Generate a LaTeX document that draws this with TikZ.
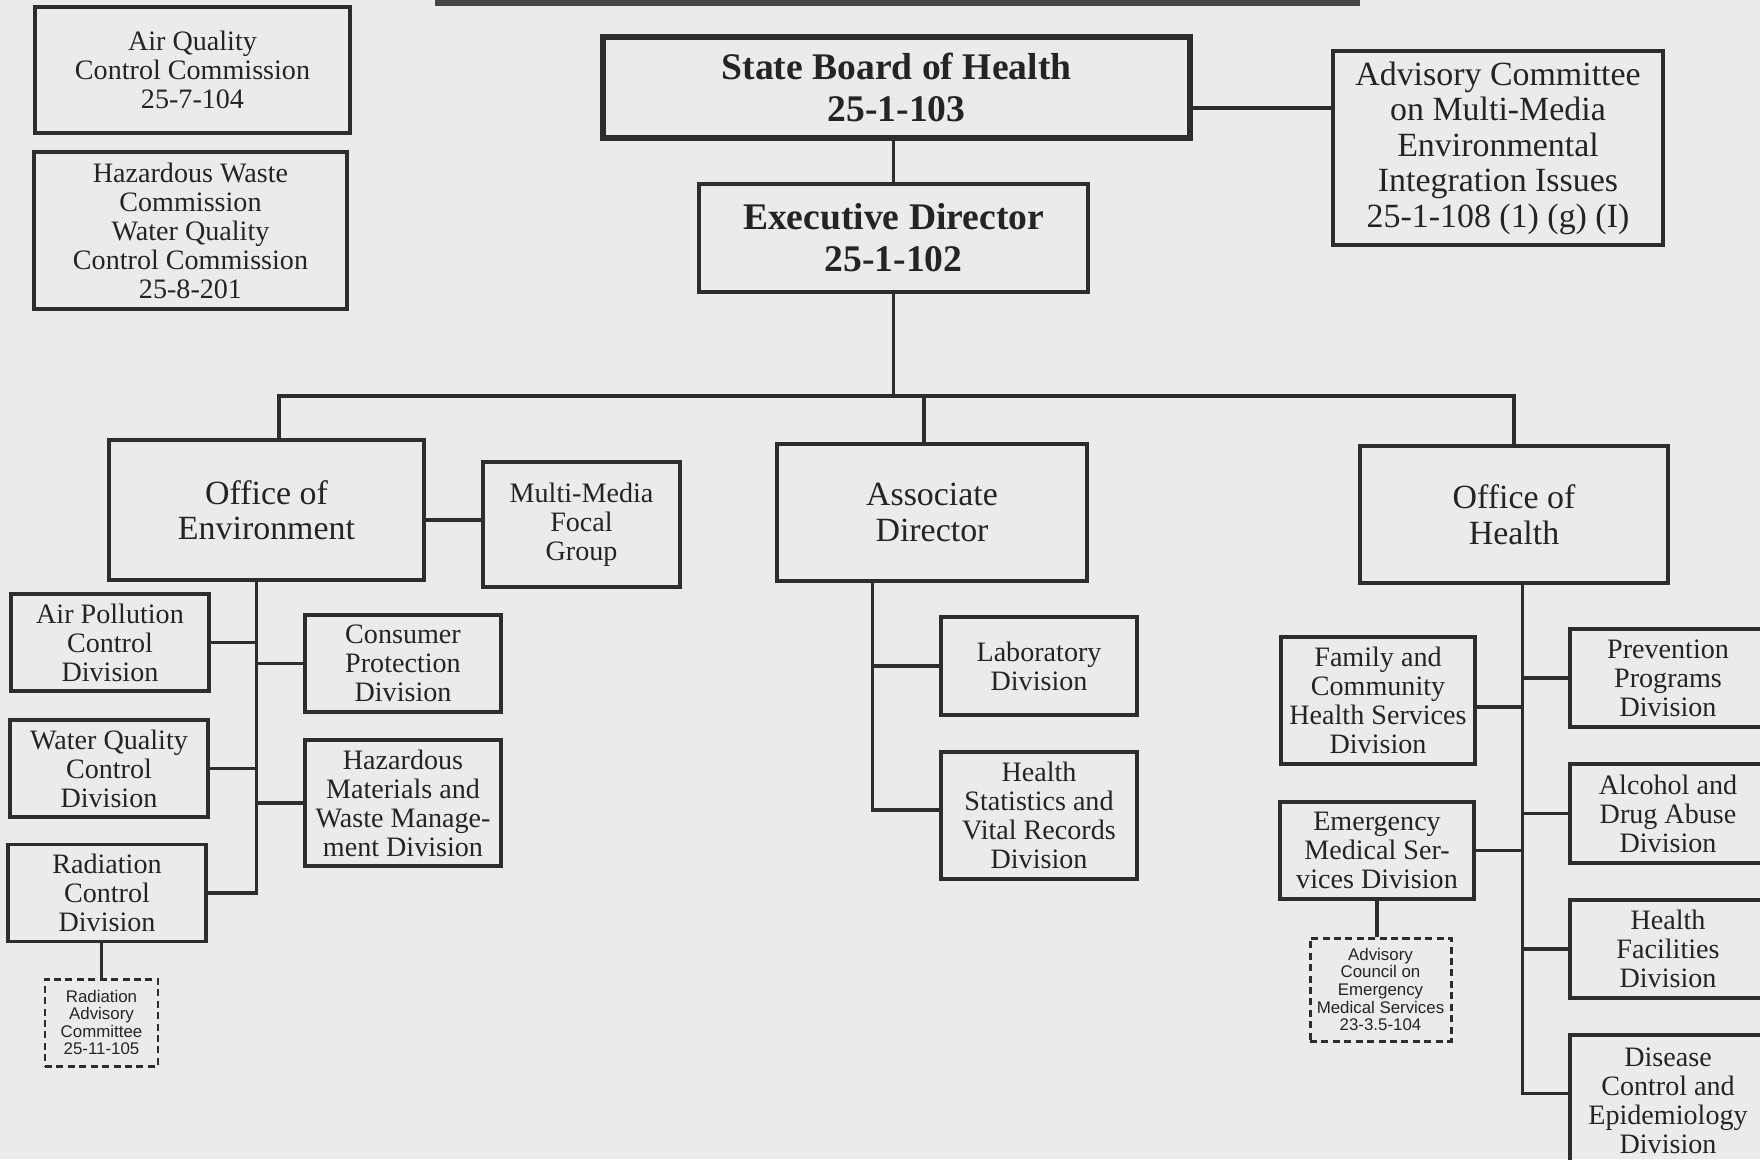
\documentclass[tikz,border=0pt]{standalone}
\usepackage{fontspec}
\setmainfont{Liberation Serif}
\newfontfamily\sansf{Liberation Sans}
\usetikzlibrary{calc}

\definecolor{paper}{RGB}{235,235,235}
\definecolor{ink}{RGB}{45,45,45}
\definecolor{band}{RGB}{70,70,70}

\tikzset{
  unit/.style={draw=ink, line width=1.9pt, inner sep=0pt, align=center, text=ink!80!black},
  boxsize/.style 2 args={minimum width=#1*0.02cm, minimum height=#2*0.02cm},
  div/.style={unit, font=\fontsize{16}{16.5}\selectfont},
  office/.style={unit, font=\fontsize{19.3}{20.2}\selectfont},
  head/.style={unit, font=\bfseries\fontsize{21.4}{24}\selectfont},
  council/.style={unit, dash pattern=on 4pt off 2.5pt, line width=1.7pt, font=\sansf\fontsize{9.6}{10}\selectfont},
  link/.style={draw=ink, line width=2pt},
}

\begin{document}
\begin{tikzpicture}[x=0.02cm, y=-0.02cm]
\fill[paper] (0,0) rectangle (1760,1159);
\useasboundingbox (0,0) rectangle (1760,1159);
\fill[band] (435,-5) rectangle (1360,6);

% board and commissions
\node[div, boxsize={315}{126}] (aqcc) at (192.5,70) {Air Quality\\Control Commission\\25-7-104};
\node[div, boxsize={313}{157}] (hwqc) at (190.5,230.5) {Hazardous Waste\\Commission\\Water Quality\\Control Commission\\25-8-201};
\node[head, line width=3pt, boxsize={587}{101}] (board) at (896.5,87.5) {State Board of Health\\25-1-103};
\node[head, boxsize={389}{108}] (exdir) at (893.5,238) {Executive Director\\25-1-102};
\node[office, boxsize={330}{194}] (mmadv) at (1498,148) {Advisory Committee\\on Multi-Media\\Environmental\\Integration Issues\\25-1-108 (1) (g) (I)};

% offices
\node[office, boxsize={315}{140}] (env) at (266.5,510) {Office of\\Environment};
\node[div, boxsize={197}{125}] (focal) at (581.5,524.5) {Multi-Media\\Focal\\Group};
\node[office, boxsize={310}{137}] (assoc) at (932,512.5) {Associate\\Director};
\node[office, boxsize={308}{137}] (health) at (1514,514.5) {Office of\\Health};

% environment divisions
\node[div, boxsize={198}{97}] (airpol) at (110,642.5) {Air Pollution\\Control\\Division};
\node[div, boxsize={198}{97}] (water) at (109,768.5) {Water Quality\\Control\\Division};
\node[div, boxsize={198}{97.5}] (rad) at (107,893) {Radiation\\Control\\Division};
\node[div, boxsize={196}{97}] (consumer) at (403,663.5) {Consumer\\Protection\\Division};
\node[div, boxsize={196}{126}] (hazmat) at (403,803) {Hazardous\\Materials and\\Waste Manage-\\ment Division};
\node[council, boxsize={113}{87}] (radadv) at (101.5,1022.5) {Radiation\\Advisory\\Committee\\25-11-105};

% associate director divisions
\node[div, boxsize={196}{98}] (lab) at (1039,666) {Laboratory\\Division};
\node[div, boxsize={196}{127}] (stats) at (1039,815.5) {Health\\Statistics and\\Vital Records\\Division};

% health divisions
\node[div, boxsize={194}{127}] (family) at (1378,700.5) {Family and\\Community\\Health Services\\Division};
\node[div, boxsize={194}{97}] (ems) at (1377,850.5) {Emergency\\Medical Ser-\\vices Division};
\node[council, boxsize={141}{103}] (emsadv) at (1380.5,989.5) {Advisory\\Council on\\Emergency\\Medical Services\\23-3.5-104};
\node[div, boxsize={196}{98}] (prev) at (1668,678) {Prevention\\Programs\\Division};
\node[div, boxsize={196}{99}] (alcohol) at (1668,813.5) {Alcohol and\\Drug Abuse\\Division};
\node[div, boxsize={196}{98}] (facil) at (1668,949) {Health\\Facilities\\Division};
\node[div, boxsize={196}{132}] (disease) at (1668,1101) {Disease\\Control and\\Epidemiology\\Division};

\coordinate (busL) at (279,396);
\coordinate (busR) at (1514,396);
\coordinate (busA) at (924,396);
\coordinate (advy) at (0,108);
\coordinate (focaly) at (0,520);
\coordinate (famy) at (0,707);
\coordinate (envtrunk) at (256.5,893);
\coordinate (adtrunk) at (872.6,810);
\coordinate (ohtrunk) at (1522.7,1093.5);

\draw[link] (board.east |- advy) -- (mmadv.west |- advy);
\draw[link] (exdir.north) -- (exdir.north |- board.south);
\draw[link] (exdir.south) -- (exdir.south |- busL);
\draw[link] (env.north -| busL) -- (busL) -- (busR) -- (health.north);
\draw[link] (busA) -- (busA |- assoc.north);
\draw[link] (env.east |- focaly) -- (focal.west |- focaly);

\draw[link] (env.south -| envtrunk) -- (envtrunk) -- (rad.east);
\draw[link] (airpol.east) -- (airpol.east -| envtrunk);
\draw[link] (water.east) -- (water.east -| envtrunk);
\draw[link] (consumer.west) -- (consumer.west -| envtrunk);
\draw[link] (hazmat.west) -- (hazmat.west -| envtrunk);
\draw[link] (radadv.north) -- (radadv.north |- rad.south);

\draw[link] (assoc.south -| adtrunk) -- (adtrunk) -- (adtrunk -| stats.west);
\draw[link] (lab.west) -- (lab.west -| adtrunk);

\draw[link] (health.south -| ohtrunk) -- (ohtrunk) -- (ohtrunk -| disease.west);
\draw[link] (family.east |- famy) -- (ohtrunk |- famy);
\draw[link] (ems.east) -- (ems.east -| ohtrunk);
\draw[link] (prev.west) -- (prev.west -| ohtrunk);
\draw[link] (alcohol.west) -- (alcohol.west -| ohtrunk);
\draw[link] (facil.west) -- (facil.west -| ohtrunk);
\draw[link] (ems.south) -- (ems.south |- emsadv.north);

\end{tikzpicture}
\end{document}
